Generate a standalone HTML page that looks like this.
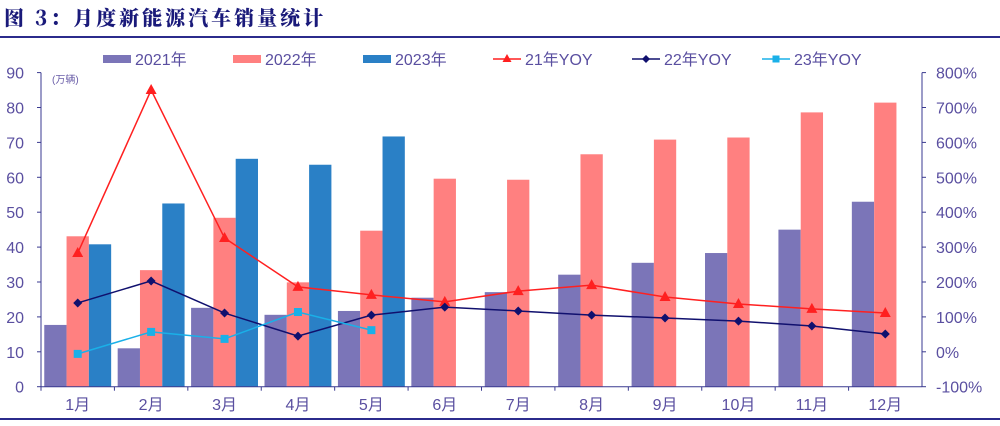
<!DOCTYPE html>
<html><head><meta charset="utf-8"><style>
body{margin:0;background:#fff;width:1000px;height:421px;overflow:hidden;font-family:"Liberation Sans","Noto Sans CJK SC",sans-serif}
</style></head><body>
<svg id="c" width="1000" height="421" xmlns="http://www.w3.org/2000/svg">
<text x="4" y="25" font-family="'Noto Serif CJK SC',serif" font-weight="900" font-size="20" fill="#1a1a7a" letter-spacing="3">图 3：月度新能源汽车销量统计</text>
<line x1="0" y1="37" x2="1000" y2="37" stroke="#2b2b8c" stroke-width="2"/>
<line x1="0" y1="419" x2="1000" y2="419" stroke="#2b2b8c" stroke-width="2"/>
<text x="52" y="83" font-size="10" fill="#6a5ea8">(万辆)</text>
<g id="bars"></g><g id="lines"></g><g id="axes"></g><g id="legend"></g>
</svg>
<script>
const months=["1月","2月","3月","4月","5月","6月","7月","8月","9月","10月","11月","12月"];
const sales2021=[17.7,11,22.6,20.6,21.7,25.5,27.1,32.1,35.5,38.3,45,53];
const sales2022=[43.1,33.4,48.4,29.9,44.7,59.6,59.3,66.6,70.8,71.4,78.6,81.4];
const sales2023=[40.8,52.5,65.3,63.6,71.7];
const yoy21=[283,750,326,186,163,143,174,191,157,137,123,111];
const yoy22=[140,203,111,45,105,128,117,105,97,88,74,51];
const yoy23=[-6,57,37,114,62];
const leftTicks=[0,10,20,30,40,50,60,70,80,90];
const rightTicks=[-100,0,100,200,300,400,500,600,700,800];
const NS="http://www.w3.org/2000/svg";
const X0=41,X1=922,Y0=386.7,Y1=72.6;
const band=(X1-X0)/months.length;
const yL=v=>Y0-(v/90)*(Y0-Y1);
const yR=v=>Y0-((v+100)/900)*(Y0-Y1);
const xC=i=>X0+band*(i+0.5);
function mk(tag,at,parent){const e=document.createElementNS(NS,tag);for(const k in at)e.setAttribute(k,at[k]);document.getElementById(parent).appendChild(e);return e;}
const bw=22.3;
const series=[[sales2021,"#7b75b8","bar-2021"],[sales2022,"#ff8080","bar-2022"],[sales2023,"#2a80c6","bar-2023"]];
series.forEach((s,k)=>{s[0].forEach((v,i)=>{
 const r=mk("rect",{x:xC(i)-1.5*bw+k*bw,y:yL(v),width:bw,height:Y0-yL(v),fill:s[1]},"bars");
 
 
});});
function line(vals,color,name,marker){
 const p=mk("polyline",{points:vals.map((v,i)=>xC(i)+","+yR(v)).join(" "),fill:"none",stroke:color,"stroke-width":1.5},"lines");
 
 
 vals.forEach((v,i)=>{const x=xC(i),y=yR(v);let m;
  if(marker=="tri")m=mk("polygon",{points:`${x},${y-6} ${x-5.5},${y+4} ${x+5.5},${y+4}`,fill:color},"lines");
  else if(marker=="dia")m=mk("polygon",{points:`${x},${y-4.5} ${x+4.5},${y} ${x},${y+4.5} ${x-4.5},${y}`,fill:color},"lines");
  else m=mk("rect",{x:x-4,y:y-4,width:8,height:8,fill:color},"lines");
  
  
 });
}
line(yoy21,"#ff2020","yoy-2021","tri");
line(yoy22,"#10106e","yoy-2022","dia");
line(yoy23,"#1ab0e8","yoy-2023","sq");
const ax="#3a3a90",tc="#5a4fa0";
let a=mk("line",{x1:X0,y1:Y1,x2:X0,y2:Y0,stroke:ax,"stroke-width":1},"axes");
a=mk("line",{x1:X1,y1:Y1,x2:X1,y2:Y0,stroke:ax,"stroke-width":1},"axes");
a=mk("line",{x1:X0,y1:Y0,x2:X1,y2:Y0,stroke:ax,"stroke-width":1},"axes");
leftTicks.forEach(v=>{mk("line",{x1:X0-4,y1:yL(v),x2:X0,y2:yL(v),stroke:ax},"axes");
 const t=mk("text",{x:24,y:yL(v)+6,"text-anchor":"end","font-size":16,fill:tc},"axes");t.textContent=v;
 
 });
rightTicks.forEach(v=>{mk("line",{x1:X1,y1:yR(v),x2:X1+4,y2:yR(v),stroke:ax},"axes");
 const t=mk("text",{x:936,y:yR(v)+6,"font-size":16,fill:tc},"axes");t.textContent=v+"%";
 
 });
months.forEach((m,i)=>{mk("line",{x1:X0+band*i,y1:Y0,x2:X0+band*i,y2:Y0+4,stroke:ax},"axes");
 const t=mk("text",{x:xC(i),y:410,"text-anchor":"middle","font-size":16,fill:tc},"axes");t.textContent=m;
 
 });
const leg=[["2021年","#7b75b8","bar",103],["2022年","#ff8080","bar",233],["2023年","#2a80c6","bar",363],["21年YOY","#ff2020","tri",493],["22年YOY","#10106e","dia",632],["23年YOY","#1ab0e8","sq",762]];
leg.forEach(l=>{const x=l[3],y=59;
 if(l[2]=="bar")mk("rect",{x:x,y:y-4,width:28,height:8,fill:l[1]},"legend");
 else{mk("line",{x1:x,y1:y,x2:x+28,y2:y,stroke:l[1],"stroke-width":1.5},"legend");
  if(l[2]=="tri")mk("polygon",{points:`${x+14},${y-5} ${x+9.5},${y+3} ${x+18.5},${y+3}`,fill:l[1]},"legend");
  else if(l[2]=="dia")mk("polygon",{points:`${x+14},${y-4} ${x+18},${y} ${x+14},${y+4} ${x+10},${y}`,fill:l[1]},"legend");
  else mk("rect",{x:x+10.5,y:y-3.5,width:7,height:7,fill:l[1]},"legend");}
 const t=mk("text",{x:x+32,y:y+6,"font-size":16,fill:tc},"legend");t.textContent=l[0];
 
 
});
</script>
</body></html>
